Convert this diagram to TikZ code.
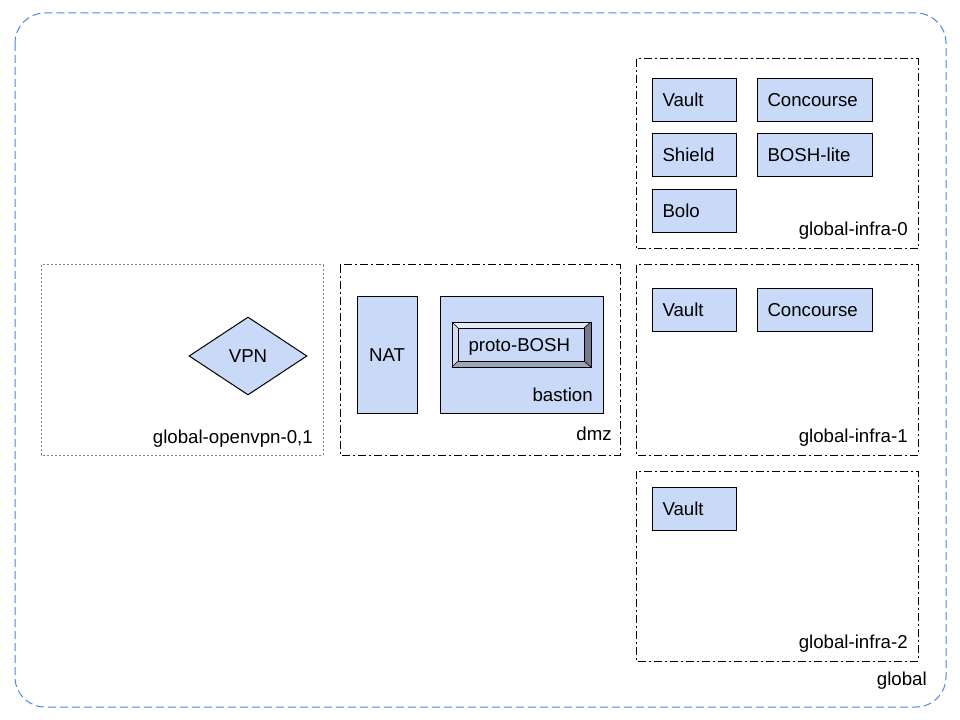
\documentclass[tikz,border=0pt]{standalone}
\usepackage{fontspec}
\setmainfont{Liberation Sans}
\usetikzlibrary{shapes.geometric}
\definecolor{vmblue}{HTML}{C9DAF8}
\definecolor{globalblue}{HTML}{4A86E8}
\definecolor{bevellight}{HTML}{E4EBF7}
\definecolor{bevelleft}{HTML}{D3DDEF}
\definecolor{beveldark}{HTML}{737C8D}
\definecolor{bevelbottom}{HTML}{9DA6B6}
\begin{document}
\begin{tikzpicture}[x=0.75pt, y=-0.75pt, font=\fontsize{14}{16}\selectfont,
	vm/.style={draw, fill=vmblue, line width=0.75pt, anchor=north west, align=left,
		inner xsep=7.5pt, inner ysep=0pt, minimum height=32.5pt},
	small/.style={text width=48pt},
	wide/.style={text width=71.25pt},
	zone/.style={draw, line width=0.75pt, dash pattern=on 6pt off 2.25pt on 1.5pt off 2.25pt},
	zonelabel/.style={anchor=base east, inner sep=0pt}]
	\useasboundingbox (0,0) rectangle (960,720);
	
	% Global region
	\draw[globalblue, line width=0.75pt, dash pattern=on 6pt off 3pt, rounded corners=22.5pt]
		(15,13) rectangle (946,707);
	\node (global) [zonelabel] at (927,685) {global};
	
	% Infra zones
	\foreach \i/\y/\v in {0/59/78, 1/265/288, 2/471/487}
	{
		\draw[zone] (636,\y) rectangle (918,\y+190);
		\node (infra\i) [zonelabel] at (908,\y+177) {global-infra-\i};
		\node (vault\i) [vm, small] at (652,\v) {Vault};
	}
	\node (concourse0) [vm, wide] at (757,78) {Concourse};
	\node (shield) [vm, small] at (652,133) {Shield};
	\node (boshlite) [vm, wide] at (757,133) {BOSH-lite};
	\node (bolo) [vm, small] at (652,189) {Bolo};
	\node (concourse1) [vm, wide] at (757,288) {Concourse};
	
	% OpenVPN zone
	\draw[gray, line width=0.75pt, dash pattern=on 1.5pt off 1.5pt] (41,265) rectangle (323,455);
	\node (openvpn) [zonelabel] at (313,443) {global-openvpn-0,1};
	\node (vpn) [diamond, draw, fill=vmblue, line width=0.75pt, inner sep=0pt,
		minimum width=88.5pt, minimum height=58.5pt] at (248,356) {VPN};
	
	% DMZ zone
	\draw[zone] (340,265) rectangle (620,455);
	\node (dmz) [zonelabel] at (612,440) {dmz};
	\node (nat) [draw, fill=vmblue, line width=0.75pt, minimum width=45pt, minimum height=87pt]
		at (387,355) {NAT};
	\draw[fill=vmblue, line width=0.75pt] (440,297) rectangle (603,413);
	\node (bastion) [zonelabel] at (593,401) {bastion};
	
	% proto-BOSH (bevelled)
	\fill[bevellight] (452,322) -- (591,322) -- (584,328) -- (458,328) -- cycle;
	\fill[bevelleft] (452,322) -- (458,328) -- (458,361) -- (452,367) -- cycle;
	\fill[beveldark] (591,322) -- (591,367) -- (584,361) -- (584,328) -- cycle;
	\fill[bevelbottom] (452,367) -- (591,367) -- (584,361) -- (458,361) -- cycle;
	\draw[line width=0.75pt] (452,322) rectangle (591,367);
	\draw[line width=0.5pt] (452,322) -- (458,328) (591,322) -- (584,328)
		(591,367) -- (584,361) (452,367) -- (458,361);
	\node (protobosh) [draw, fill=vmblue, line width=0.75pt, anchor=north west, align=left,
		inner xsep=7.5pt, inner ysep=0pt, text width=79.5pt, minimum height=24.75pt,
		text depth=0pt] at (458,328) {proto-BOSH};
\end{tikzpicture}
\end{document}
